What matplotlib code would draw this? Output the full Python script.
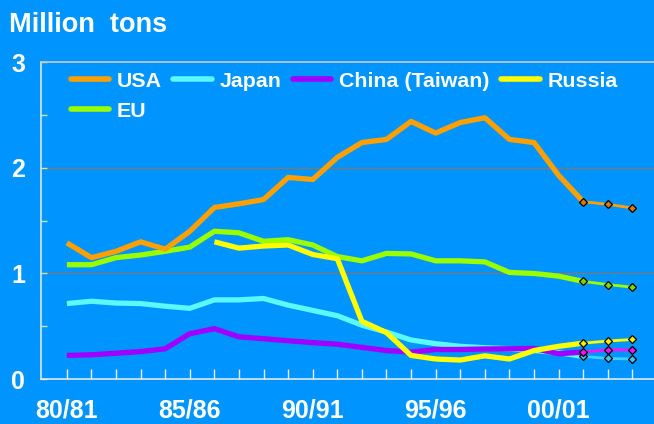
import numpy as np
import matplotlib
matplotlib.use("Agg")
import matplotlib.pyplot as plt
from matplotlib.lines import Line2D

plt.rcParams['font.family'] = ['Liberation Sans', 'DejaVu Sans']
plt.rcParams['font.weight'] = 'bold'

years = ["80/81", "81/82", "82/83", "83/84", "84/85", "85/86", "86/87", "87/88",
         "88/89", "89/90", "90/91", "91/92", "92/93", "93/94", "94/95", "95/96",
         "96/97", "97/98", "98/99", "99/00", "00/01", "01/02", "02/03", "03/04"]
tick_labels = ["80/81", "85/86", "90/91", "95/96", "00/01"]

usa = [1.29, 1.15, 1.21, 1.30, 1.23, 1.40, 1.625, 1.66, 1.70, 1.91, 1.89, 2.10,
       2.24, 2.27, 2.44, 2.33, 2.43, 2.475, 2.27, 2.24, 1.93, 1.68, 1.655, 1.62]
japan = [0.715, 0.737, 0.72, 0.715, 0.69, 0.67, 0.75, 0.75, 0.763, 0.70, 0.65, 0.60,
         0.51, 0.445, 0.37, 0.335, 0.31, 0.297, 0.287, 0.27, 0.25, 0.214, 0.195, 0.19]
china = [0.224, 0.23, 0.245, 0.26, 0.287, 0.43, 0.477, 0.40, 0.382, 0.363, 0.345, 0.33,
         0.30, 0.27, 0.255, 0.28, 0.28, 0.285, 0.287, 0.29, 0.24, 0.255, 0.277, 0.277]
russia = [np.nan, np.nan, np.nan, np.nan, np.nan, np.nan, 1.30, 1.24, 1.26, 1.27, 1.18, 1.14,
          0.547, 0.44, 0.224, 0.19, 0.18, 0.22, 0.19, 0.27, 0.31, 0.34, 0.36, 0.375]
eu = [1.083, 1.083, 1.15, 1.175, 1.21, 1.25, 1.40, 1.385, 1.305, 1.32, 1.27, 1.16,
      1.12, 1.19, 1.185, 1.12, 1.12, 1.11, 1.01, 1.00, 0.975, 0.925, 0.895, 0.87]

first_proj = 21  # index of 01/02; seasons from here on are marked as estimates

series = [
    # name, values, line colour, projection colour, marker fill
    ("EU", eu, "#99FF00", "#99FF00", "#77DD00"),
    ("USA", usa, "#FFA000", "#FFA000", "#E07800"),
    ("Japan", japan, "#5CF8FF", "#40D0FF", "#40C8F0"),
    ("China (Taiwan)", china, "#A000FF", "#FF10FF", "#FF10FF"),
    ("Russia", russia, "#FFFF00", "#FFFF00", "#F0F000"),
]

BG = "#0094FF"
fig = plt.figure(figsize=(6.54, 4.24), dpi=100, facecolor=BG)
ax = fig.add_axes([0.062, 0.106, 0.938, 0.747], facecolor=BG)

x = np.arange(len(years))
handles = {}
for name, vals, col, pcol, mcol in series:
    v = np.array(vals, dtype=float)
    ax.plot(x[:first_proj + 1], v[:first_proj + 1], color=col, lw=3.8,
            solid_capstyle='butt', zorder=3)
    ax.plot(x[first_proj:], v[first_proj:], color=pcol, lw=2.0, zorder=4)
    ax.plot(x[first_proj:], v[first_proj:], ls='none', marker='D', ms=4.5,
            mfc=mcol, mec='black', mew=0.9, zorder=5)
    handles[name] = Line2D([0], [0], color=col, lw=4, solid_capstyle='round')

ax.set_xlim(-1.07, 23.88)
ax.set_ylim(0, 3)

ax.set_yticks([0, 1, 2, 3])
ax.set_yticklabels(["0", "1", "2", "3"])
ax.set_yticks([0.5, 1.5, 2.5], minor=True)
ax.tick_params(axis='y', which='both', direction='in', length=4, width=1,
               colors='#C8E890', labelcolor='white', labelsize=18, pad=11)
ax.set_xticks(x, minor=True)
ax.set_xticks([years.index(t) for t in tick_labels])
ax.set_xticklabels(tick_labels)
ax.tick_params(axis='x', which='both', direction='in', length=7.5, width=1,
               colors='#E8F0FF', labelcolor='white', labelsize=18, pad=14)
for lab in ax.get_xticklabels() + ax.get_yticklabels():
    lab.set_fontweight('bold')

for yv in [1, 2]:
    ax.axhline(yv, color='#7A7A7A', lw=1.0, zorder=1)

ax.spines['right'].set_visible(False)
ax.spines['top'].set_color('#C8C8C8')
ax.spines['top'].set_linewidth(1.2)
ax.spines['left'].set_color('#D8E8F0')
ax.spines['bottom'].set_color('#E0E8F0')
for s in ['left', 'bottom']:
    ax.spines[s].set_linewidth(1.2)

order = ["USA", "EU", "Japan", "China (Taiwan)", "Russia"]
leg = ax.legend([handles[k] for k in order], order, ncol=4, loc='upper left',
                bbox_to_anchor=(0.049, 0.970), frameon=False, fontsize=15.4,
                handlelength=1.8, handletextpad=0.35, columnspacing=0.55,
                labelspacing=0.52, borderpad=0, borderaxespad=0)
for t in leg.get_texts():
    t.set_color('white')
    t.set_fontweight('bold')

fig.text(9.3 / 654, 1 - 32.5 / 424, "Million  tons", color='white', fontsize=19.5,
         fontweight='bold', ha='left', va='baseline')

fig.savefig("out.png", dpi=100, facecolor=BG)
